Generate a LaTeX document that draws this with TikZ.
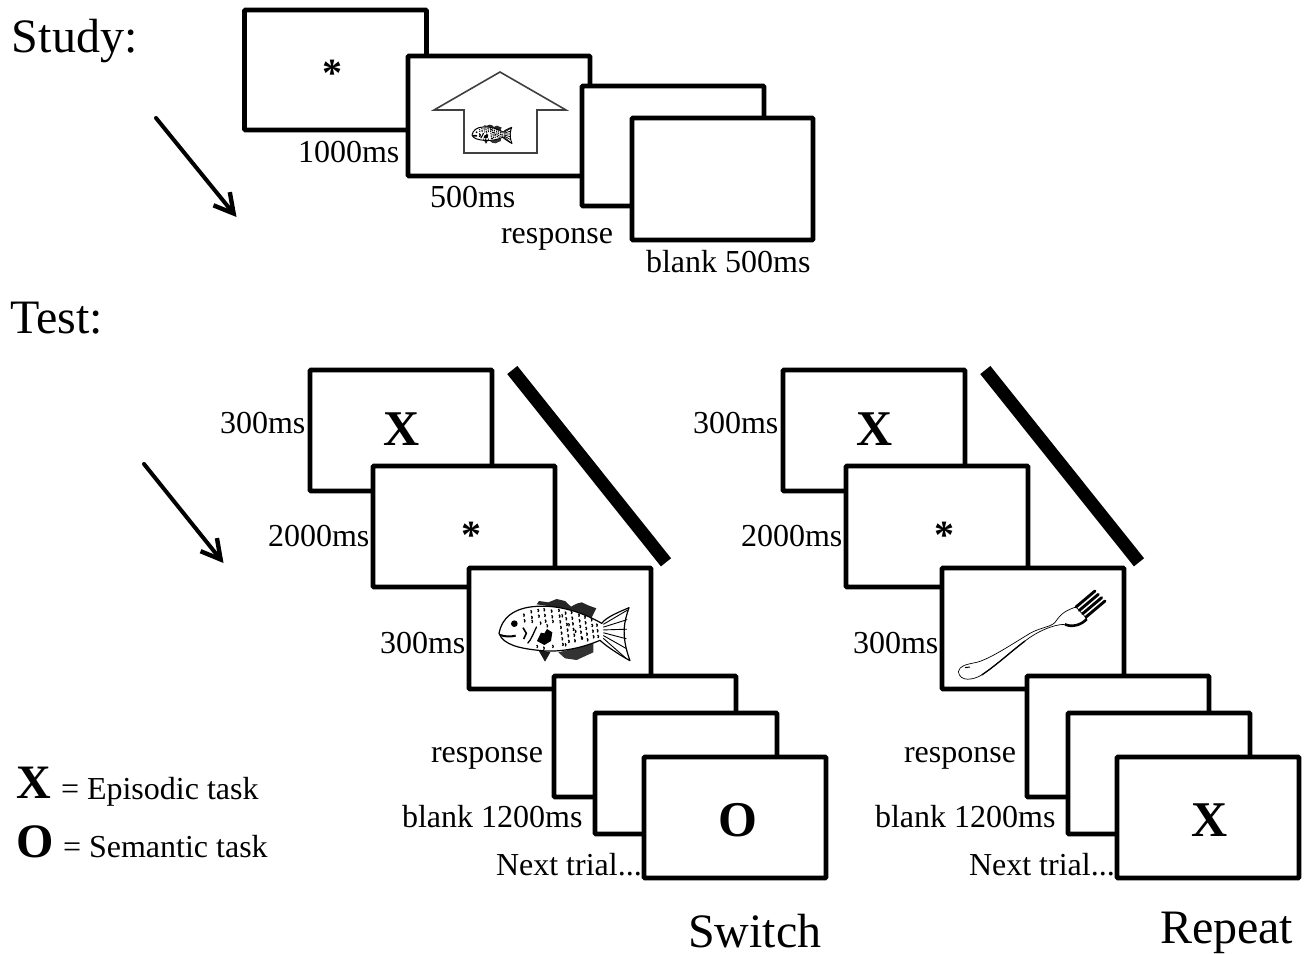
\documentclass[tikz,border=0pt]{standalone}
\usepackage{fontspec}
\setmainfont{Liberation Serif}
\usetikzlibrary{arrows.meta}
\newcommand{\fsz}[1]{\fontsize{#1}{#1}\selectfont}
\tikzset{
  frame/.style={draw=black,fill=white,line width=4.8pt,rounded corners=1pt,minimum width=#1,inner sep=0pt,outer sep=0pt},
  frame/.default=182pt,
  lbl/.style={anchor=base west,inner sep=0pt,outer sep=0pt,font=\fsz{32}},
  head/.style={anchor=base west,inner sep=0pt,outer sep=0pt,font=\fsz{48}},
  sym/.style={anchor=base,inner sep=0pt,outer sep=0pt,font=\fsz{50}\bfseries},
  star/.style={anchor=base,inner sep=0pt,outer sep=0pt,font=\fsz{40}\bfseries},
  timearrow/.style={line width=4pt,line cap=round,-{Straight Barb[length=19pt,width=21pt,line width=4.4pt]}},
  bar/.style={line width=13pt},
}
% fish drawn in a local 1/3-pixel grid
\newcommand{\drawfish}[4]{%
\begin{scope}[shift={(#1,#2)},scale=#3,line join=round]
  \fill[black!85] (215,118) -- (222,108) -- (250,112) -- (275,102) -- (300,108) -- (318,125) -- (335,116) -- (350,112) -- (372,122) -- (394,130) -- (378,162) -- (300,130) -- cycle;
  \fill[black!90] (220,255) -- (240,290) -- (256,262) -- cycle;
  \fill[black!80] (280,262) -- (300,280) -- (335,285) -- (385,262) -- (385,235) -- (330,250) -- cycle;
  \draw[fill=white,line width=#4*1.2pt] (102,205) .. controls (110,160) and (145,128) .. (215,124)
     .. controls (280,120) and (350,140) .. (410,175)
     .. controls (425,155) and (465,140) .. (492,128)
     .. controls (480,165) and (465,205) .. (495,287)
     .. controls (455,265) and (420,240) .. (405,226)
     .. controls (360,245) and (290,265) .. (220,256)
     .. controls (165,250) and (115,240) .. (102,205) -- cycle;
  \foreach \x/\a/\n in {175/146/1,197/136/1,218/132/1,236/130/2,258/134/1,280/132/6,300/140/5,318/138/5,340/146/4,358/152/4,378/160/3,394/176/2}{
    \foreach \k in {0,...,\n}{
      \draw[line width=#4*1.3pt] ({\x+\k*2},{\a+\k*17}) -- ++(3,4) -- ++(-2,5);
    }
  }
  \foreach \x/\y in {225/170,245/178,262/165,215/240,235/245,262/240,200/165,290/148,310/175,330/195,350/215,300/235}{
    \draw[line width=#4*1.2pt] (\x,\y) -- ++(3,4) -- ++(-2,5);
  }
  \foreach \dy in {0,12,24,36,48,60}{
    \draw[line width=#4*.9pt] (415,{178+\dy*.7}) -- ({488-\dy*.1},{135+\dy*2.4});
  }
  \fill[black] (148,176) circle (10);
  \draw[line width=#4*2pt] (105,210) .. controls (120,215) and (135,216) .. (152,212);
  \draw[line width=#4*1.6pt] (174,188) -- (184,205) -- (176,222);
  \draw[line width=#4*1.3pt] (215,185) .. controls (205,205) and (200,222) .. (188,235);
  \fill[black] (228,203) -- (238,205) -- (246,192) -- (262,202) -- (258,228) -- (238,240) -- (216,228) -- cycle;
\end{scope}}
\begin{document}
\begin{tikzpicture}[x=1pt,y=-1pt]
\useasboundingbox (0,0) rectangle (1308,953);
\fill[white] (0,0) rectangle (1308,953);

% ---------- Study
\node[head] (tStudy) at (12,52) {Study:};
\coordinate (sa) at (156,118); \coordinate (sb) at (236.5,217);
\draw[timearrow] (sa) -- (sb);

\node[frame,minimum height=120pt] (s1) at (335.5,70) {};
\node[star] (s1t) at (332,86) {*};
\node[frame,minimum height=120pt] (s2) at (499,116) {};
\draw[draw=black!75,line width=1.6pt,line join=miter] (500,72) -- (566,110) -- (537,110) -- (537,153) -- (464,153) -- (464,110) -- (434,110) -- cycle;
\drawfish{461.6}{114.3}{.1017}{.8}
\node[frame,minimum height=120pt] (s3) at (673,146) {};
\node[frame,minimum width=181pt,minimum height=122pt] (s4) at (722.5,179) {};
\node[lbl] (l1) at (298,162) {1000ms};
\node[lbl] (l2) at (430,207) {500ms};
\node[lbl] (l3) at (501,243) {response};
\node[lbl] (l4) at (646,272) {blank 500ms};

% ---------- Test
\node[head] (tTest) at (10,333) {Test:};
\coordinate (ta) at (144,464); \coordinate (tb) at (223.5,563);
\draw[timearrow] (ta) -- (tb);

% left sequence
\coordinate (ba) at (512.3,370); \coordinate (bb) at (666,562.3);
\draw[bar] (ba) -- (bb);
\node[frame,minimum height=121pt] (a1) at (401,430.5) {};
\node[sym] (a1t) at (402,445) {X};
\node[frame,minimum height=121pt] (a2) at (464,526.5) {};
\node[star] (a2t) at (471,548) {*};
\node[frame,minimum height=121pt] (a3) at (560,628.5) {};
\drawfish{465}{565}{.3333}{1}
\node[frame,minimum height=121pt] (a4) at (645,736.5) {};
\node[frame,minimum height=121pt] (a5) at (686,773.5) {};
\node[frame,minimum height=121pt] (a6) at (735,817.5) {};
\node[sym] (a6t) at (738,836) {O};
\node[lbl] (al1) at (220,433) {300ms};
\node[lbl] (al2) at (268,546) {2000ms};
\node[lbl] (al3) at (380,653) {300ms};
\node[lbl] (al4) at (431,762) {response};
\node[lbl] (al5) at (402,827) {blank 1200ms};
\node[lbl] (al6) at (496,875) {Next trial...};

% right sequence
\coordinate (ca) at (985.3,370); \coordinate (cb) at (1139,562.3);
\draw[bar] (ca) -- (cb);
\node[frame,minimum height=121pt] (b1) at (874,430.5) {};
\node[sym] (b1t) at (875,445) {X};
\node[frame,minimum height=121pt] (b2) at (937,526.5) {};
\node[star] (b2t) at (944,548) {*};
\node[frame,minimum height=121pt] (b3) at (1033,628.5) {};
\begin{scope}[shift={(940,565)},scale=.3333,line join=round]
  \draw[line width=.7pt,fill=white] (55,320) .. controls (58,302) and (80,298) .. (110,292)
     .. controls (150,282) and (220,235) .. (270,205)
     .. controls (300,188) and (335,185) .. (345,172)
     .. controls (358,155) and (365,140) .. (408,126)
     -- (440,160)
     .. controls (425,178) and (400,190) .. (375,178)
     .. controls (340,178) and (290,200) .. (255,228)
     .. controls (215,258) and (170,300) .. (125,330)
     .. controls (100,345) and (60,352) .. (55,320) -- cycle;
  \draw[line width=1.3pt] (125,330) .. controls (170,300) and (215,258) .. (255,228);
  \draw[line width=2.6pt] (375,178) .. controls (395,188) and (425,180) .. (440,162);
  \draw[line width=1pt] (75,308) -- (90,306);
  \foreach \x/\y in {408/126,418/136,428/146,438/156}{
    \draw[line width=2.9pt,line cap=round] (\x,\y) -- ++(57,-48);
  }
\end{scope}
\node[frame,minimum height=121pt] (b4) at (1118,736.5) {};
\node[frame,minimum height=121pt] (b5) at (1159,773.5) {};
\node[frame,minimum height=121pt] (b6) at (1208,817.5) {};
\node[sym] (b6t) at (1209.5,836) {X};
\node[lbl] (bl1) at (693,433) {300ms};
\node[lbl] (bl2) at (741,546) {2000ms};
\node[lbl] (bl3) at (853,653) {300ms};
\node[lbl] (bl4) at (904,762) {response};
\node[lbl] (bl5) at (875,827) {blank 1200ms};
\node[lbl] (bl6) at (969,875) {Next trial...};

% legend
\node[sym,font=\fsz{48}\bfseries] (kX) at (34,798) {X};
\node[lbl] (kXt) at (61,799) {= Episodic task};
\node[sym,font=\fsz{48}\bfseries] (kO) at (35,857) {O};
\node[lbl] (kOt) at (63,857) {= Semantic task};

% conditions
\node[head] (cS) at (688,947) {Switch};
\node[head] (cR) at (1160,943) {Repeat};
\end{tikzpicture}
\end{document}
